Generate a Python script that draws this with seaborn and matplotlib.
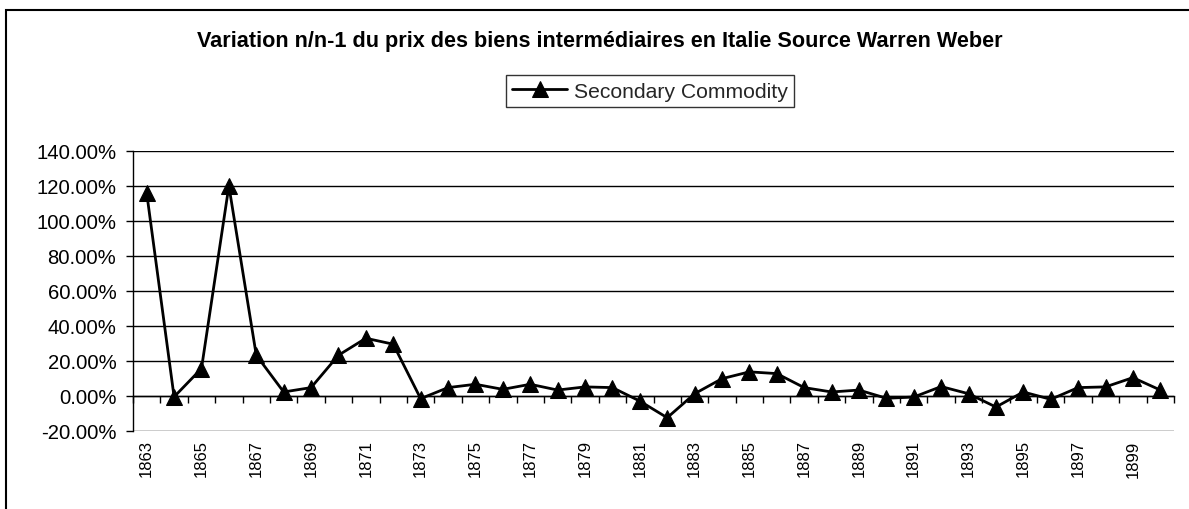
import matplotlib
matplotlib.use("Agg")
import matplotlib.pyplot as plt
import matplotlib.patches as mpatches
from matplotlib.ticker import FuncFormatter
import seaborn as sns
import pandas as pd

title = "Variation n/n-1 du prix des biens intermédiaires en Italie Source Warren Weber"
series_name = "Secondary Commodity"
years = list(range(1863, 1901))
values = [116.0, -0.5, 15.7, 120.0, 23.3, 2.3, 4.8, 23.3, 33.0, 29.6,
          -1.5, 4.8, 6.7, 3.8, 6.7, 3.4, 5.2, 4.8, -2.9, -12.4,
          1.3, 9.9, 13.8, 12.8, 4.8, 2.3, 3.4, -1.3, -0.6, 5.4,
          1.3, -6.3, 2.3, -1.9, 4.8, 5.2, 10.5, 3.4]
label_years = list(range(1863, 1900, 2))
y_ticks = [-20, 0, 20, 40, 60, 80, 100, 120, 140]

df = pd.DataFrame({"year": years, "value": values, "series": series_name})

sns.set_theme(style="white")
plt.rcParams["font.family"] = ["Liberation Sans", "DejaVu Sans"]

fig = plt.figure(figsize=(11.89, 5.10), dpi=100)
ax = fig.add_axes([133/1189, 1-432/510, (1174-133)/1189, (432-152)/510])

sns.lineplot(data=df, x="year", y="value", hue="series", palette=["black"],
             marker="^", markersize=11, markeredgecolor="black", linewidth=2,
             ax=ax, legend=True)

ax.set_xlim(1862.5, 1900.5)
ax.set_ylim(-20, 140)
ax.set_yticks(y_ticks)
ax.yaxis.set_major_formatter(FuncFormatter(lambda v, p: f"{v:.2f}%"))
ax.grid(axis="y", color="black", linewidth=1)
ax.set_axisbelow(True)
ax.set_xlabel("")
ax.set_ylabel("")

for s in ["top", "right", "bottom"]:
    ax.spines[s].set_visible(False)
ax.spines["left"].set_color("black")
ax.spines["left"].set_linewidth(1)

ax.tick_params(axis="y", which="major", length=5, width=1, color="black",
               direction="out", left=True, labelsize=14.6, pad=7, labelcolor="black")
ax.set_xticks(label_years)
ax.set_xticklabels([str(y) for y in label_years], rotation=90)
ax.tick_params(axis="x", which="major", length=0, labelsize=12, pad=6, labelcolor="black")

# category boundary ticks on the zero line
sec = ax.secondary_xaxis(20/160)
sec.set_xticks([y - 0.5 for y in years] + [years[-1] + 0.5])
sec.set_xticklabels([])
sec.tick_params(axis="x", length=5, width=1, color="black", direction="out")
sec.spines["bottom"].set_color("black")
sec.spines["bottom"].set_linewidth(1)

leg = ax.legend(loc="center", bbox_to_anchor=(650/1189, 1-92/510),
                bbox_transform=fig.transFigure, frameon=True, fancybox=False,
                fontsize=15.2, handlelength=2.6, borderpad=0.3, handletextpad=0.3)
leg.get_frame().set_edgecolor("black")
leg.get_frame().set_linewidth(1)

fig.text(600/1189, 1-42/510, title, ha="center", va="center", fontsize=15.6,
         fontweight="bold", color="black")

fig.patches.append(mpatches.Rectangle((6/1189, -0.1), 1.2, 1.1-10.5/510,
                                      transform=fig.transFigure, fill=False,
                                      edgecolor="black", linewidth=1.5))

fig.savefig("out.png", dpi=100, facecolor="white")
